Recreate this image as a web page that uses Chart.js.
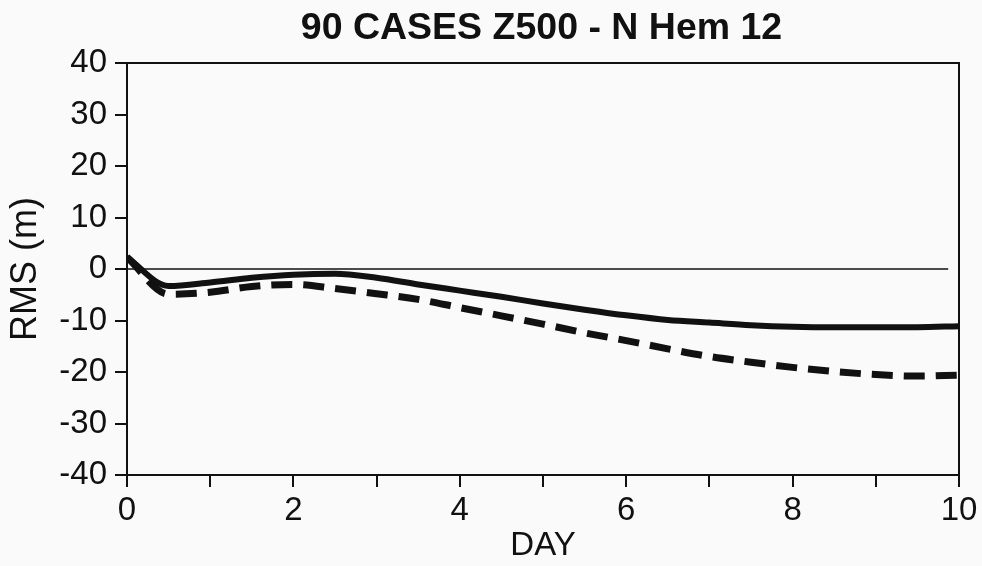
<!DOCTYPE html>
<html>
<head>
<meta charset="utf-8">
<script src="https://cdn.jsdelivr.net/npm/chart.js@4/dist/chart.umd.min.js"></script>
<style>
  html, body { margin: 0; padding: 0; background: #fafafa; }
  #wrap { width: 982px; height: 566px; }
</style>
</head>
<body>
<div id="wrap"><canvas id="c" width="982" height="566"></canvas></div>
<script>
// Forecast day at which each value is sampled
const days = [0, 0.5, 1, 1.5, 2, 2.5, 3, 3.5, 4, 4.5, 5, 5.5, 6, 6.5, 7, 7.5, 8, 8.5, 9, 9.5, 10];

// RMS difference (m), solid curve
const solidRms = [2.3, -3.3, -2.6, -1.7, -1.1, -0.9, -1.7, -3.0, -4.2, -5.4, -6.7, -7.9, -9.0, -9.9, -10.4, -10.9, -11.2, -11.3, -11.3, -11.3, -11.1];

// RMS difference (m), dashed curve
const dashedRms = [2.3, -4.9, -4.5, -3.4, -3.0, -3.8, -4.8, -5.9, -7.5, -9.1, -10.7, -12.4, -13.9, -15.5, -17.0, -18.1, -19.1, -19.9, -20.5, -20.8, -20.6];

// Zero reference line
const zeroDays = [0, 9.87];
const zeroRms = [0, 0];

// Axis ranges and tick spacing
const yTicks = [-40, -30, -20, -10, 0, 10, 20, 30, 40];
const xLabelledDays = [0, 2, 4, 6, 8, 10];

const titleText = '90 CASES Z500 - N Hem 12';
const FONT = "'Liberation Sans', Arial, Helvetica, sans-serif";
const INK = '#111';

const toPoints = (xs, ys) => xs.map((x, i) => ({ x: x, y: ys[i] }));

// Closes the plot box and writes the heading centred over the plot area
const framePlugin = {
  id: 'frame',
  afterDraw(chart) {
    const { ctx, chartArea: a } = chart;
    ctx.save();
    ctx.strokeStyle = INK;
    ctx.lineWidth = 2;
    ctx.beginPath();
    ctx.moveTo(a.left, a.top);
    ctx.lineTo(a.right, a.top);
    ctx.lineTo(a.right, a.bottom);
    ctx.stroke();
    ctx.fillStyle = INK;
    ctx.font = "bold 37.5px " + FONT;
    ctx.textAlign = 'center';
    ctx.textBaseline = 'alphabetic';
    ctx.fillText(titleText, (a.left + a.right) / 2 - 1.5, 39);
    ctx.restore();
  }
};

const bgPlugin = {
  id: 'bg',
  beforeDraw(chart) {
    const { ctx, width, height } = chart;
    ctx.save();
    ctx.fillStyle = '#fafafa';
    ctx.fillRect(0, 0, width, height);
    ctx.restore();
  }
};

new Chart(document.getElementById('c'), {
  type: 'line',
  data: {
    datasets: [
      {
        label: 'zero',
        data: toPoints(zeroDays, zeroRms),
        borderColor: INK,
        borderWidth: 1.6,
        pointRadius: 0,
        tension: 0
      },
      {
        label: 'solid',
        data: toPoints(days, solidRms),
        borderColor: INK,
        borderWidth: 6,
        pointRadius: 0,
        cubicInterpolationMode: 'monotone'
      },
      {
        label: 'dashed',
        data: toPoints(days, dashedRms),
        borderColor: INK,
        borderWidth: 7,
        borderDash: [21, 11],
        borderCapStyle: 'butt',
        pointRadius: 0,
        cubicInterpolationMode: 'monotone'
      }
    ]
  },
  options: {
    responsive: false,
    animation: false,
    devicePixelRatio: 1,
    layout: { padding: { top: 63, right: 23, bottom: 0, left: 0 } },
    plugins: {
      legend: { display: false },
      tooltip: { enabled: false },
      title: { display: false }
    },
    scales: {
      x: {
        type: 'linear',
        min: 0,
        max: 10,
        afterFit(axis) { axis.height = 91; },
        border: { display: true, color: INK, width: 2 },
        grid: { display: true, drawOnChartArea: false, drawTicks: true, tickLength: 12, color: INK, lineWidth: 2 },
        ticks: {
          stepSize: 1,
          padding: 4,
          color: INK,
          font: { family: FONT, size: 33 },
          maxRotation: 0,
          autoSkip: false,
          callback: (v) => xLabelledDays.includes(v) ? String(v) : ''
        },
        title: { display: true, text: 'DAY', color: INK, font: { family: FONT, size: 33 }, padding: { top: 0, bottom: 0 } }
      },
      y: {
        type: 'linear',
        min: yTicks[0],
        max: yTicks[yTicks.length - 1],
        afterFit(axis) { axis.width = 127; },
        afterBuildTicks(axis) { axis.ticks = yTicks.map(v => ({ value: v })); },
        border: { display: true, color: INK, width: 2 },
        grid: { display: true, drawOnChartArea: false, drawTicks: true, tickLength: 12, color: INK, lineWidth: 2 },
        ticks: {
          padding: 8,
          color: INK,
          font: { family: FONT, size: 33 },
          callback: (v) => String(v)
        },
        title: { display: true, text: 'RMS (m)', color: INK, font: { family: FONT, size: 36 }, padding: { top: 4, bottom: 0 } }
      }
    }
  },
  plugins: [bgPlugin, framePlugin]
});
</script>
</body>
</html>
